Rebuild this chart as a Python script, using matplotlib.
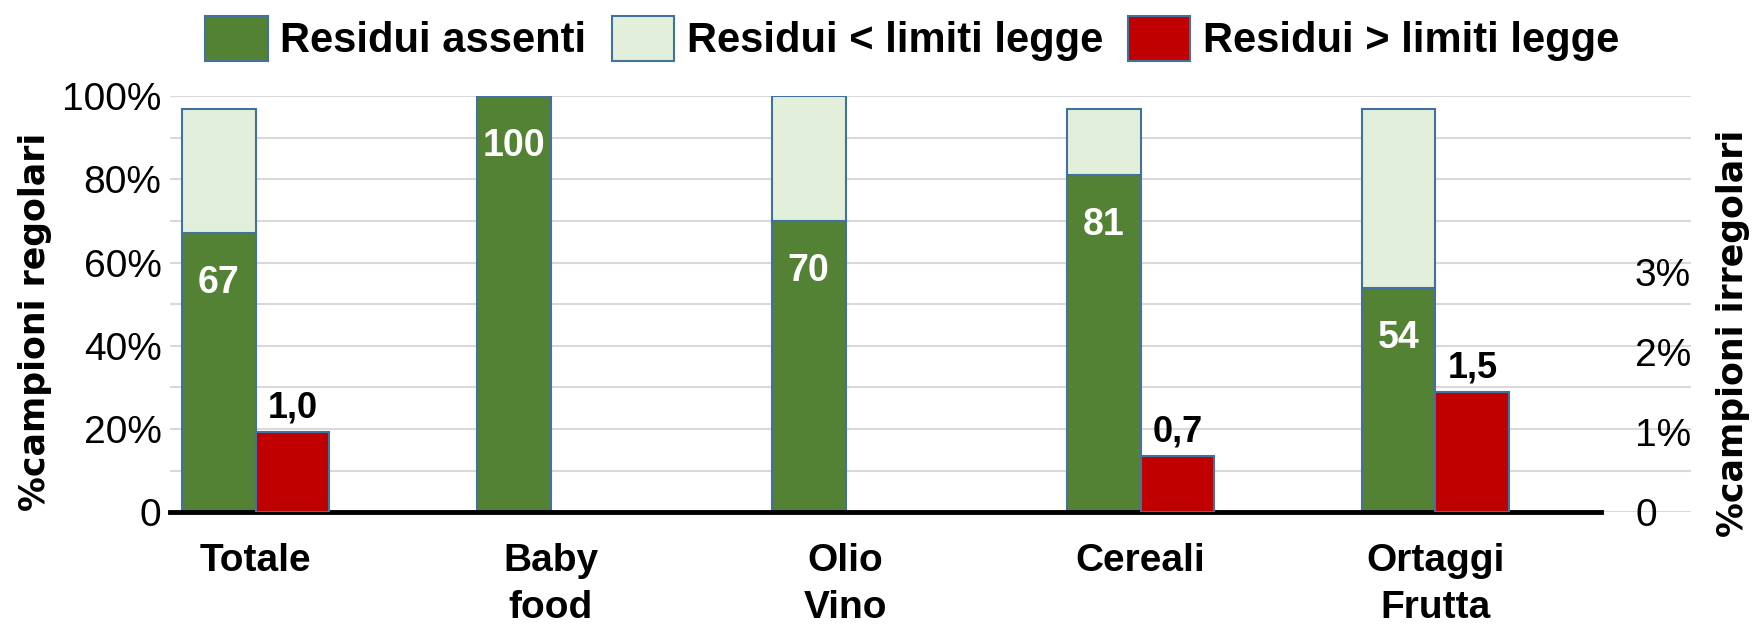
import matplotlib
matplotlib.use("Agg")
import matplotlib.pyplot as plt
import numpy as np

plt.rcParams['font.family'] = ['Liberation Sans', 'DejaVu Sans']

# data
categories = ["Totale", "Baby\nfood", "Olio\nVino", "Cereali", "Ortaggi\nFrutta"]
residui_assenti = [67, 100, 70, 81, 54]          # % campioni regolari
residui_sotto_limiti = [30, 0, 30, 16, 43]        # % campioni regolari
residui_sopra_limiti = [1.0, 0, 0, 0.7, 1.5]      # % campioni irregolari
sopra_labels = ["1,0", "", "", "0,7", "1,5"]

green = '#548235'
light = '#E2EFDA'
red = '#C00000'
edge = '#41719C'

fig = plt.figure(figsize=(17.61, 6.24), dpi=100)
ax = fig.add_axes([0.0965, 0.179, 0.8635, 0.667])
ax2 = ax.twinx()

x = np.arange(len(categories))
w = 0.25

b1 = ax.bar(x, residui_assenti, w, color=green, edgecolor=edge, linewidth=1.5,
            label='Residui assenti', zorder=3)
b2 = ax.bar(x, residui_sotto_limiti, w, bottom=residui_assenti, color=light,
            edgecolor=edge, linewidth=1.5, label='Residui < limiti legge', zorder=3)
mask = [v > 0 for v in residui_sopra_limiti]
b3 = ax2.bar(x[mask] + w, np.array(residui_sopra_limiti)[mask], w, color=red,
             edgecolor=edge, linewidth=1.5, label='Residui > limiti legge', zorder=3)

# value labels
for xi, v in zip(x, residui_assenti):
    ax.annotate(str(v), (xi, v), xytext=(0, -36), textcoords='offset points',
                ha='center', va='center', color='white', fontsize=27,
                fontweight='bold', zorder=5)
for xi, v, lab in zip(x, residui_sopra_limiti, sopra_labels):
    if lab:
        ax2.annotate(lab, (xi + w, v), xytext=(0, 5), textcoords='offset points',
                     ha='center', va='bottom', color='black', fontsize=26,
                     fontweight='bold', zorder=5)

ax.set_xlim(-0.166, 4.99)
ax.set_ylim(0, 100)
ax2.set_ylim(0, 5.2)

ax.set_yticks(np.arange(0, 101, 10))
ax.set_yticklabels(['0', '', '20%', '', '40%', '', '60%', '', '80%', '', '100%'])
ax2.set_yticks([0, 1, 2, 3])
ax2.set_yticklabels(['0', '1%', '2%', '3%'])

ax.yaxis.grid(True, color='#D9D9D9', linewidth=1.5, zorder=0)
ax.set_axisbelow(True)

ax.set_xticks(x + w / 2)
ax.set_xticklabels(categories, fontsize=28, fontweight='bold', linespacing=1.4,
                   va='top')
ax.tick_params(axis='x', length=0, pad=22)
ax.tick_params(axis='y', length=0, labelsize=28, pad=6)
ax2.tick_params(axis='y', length=0, labelsize=28, pad=-40)

for a in (ax, ax2):
    for s in a.spines.values():
        s.set_visible(False)

# baseline
ax.axhline(0, xmin=0, xmax=(4.685 + 0.166) / (4.99 + 0.166), color='black',
           linewidth=3.5, zorder=4, clip_on=False)

fig.text(0.02, 0.484, '%campioni regolari', fontsize=25, fontweight='bold',
         family='DejaVu Sans', rotation=90, ha='center', va='center')
fig.text(0.984, 0.465, '%campioni irregolari', fontsize=25, fontweight='bold',
         family='DejaVu Sans', rotation=90, ha='center', va='center')

handles = [b1, b2, b3]
fig.legend(handles, [h.get_label() for h in handles], loc='upper center',
           bbox_to_anchor=(0.518, 1.035), ncol=3, frameon=False,
           prop={'size': 30, 'weight': 'bold'}, handlelength=1.5,
           handleheight=1.3, handletextpad=0.3, columnspacing=0.6)

fig.savefig('out.png', dpi=100)
